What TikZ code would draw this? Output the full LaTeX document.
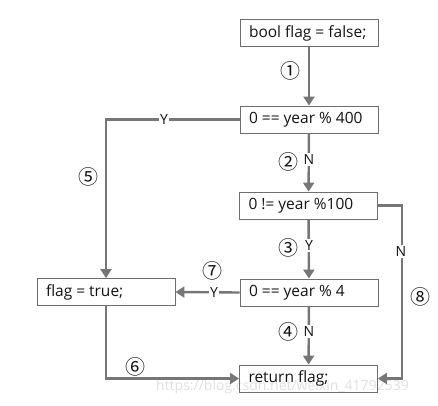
\documentclass[tikz,border=0pt]{standalone}
\usepackage{fontspec}
\setmainfont{Open Sans}
\newfontfamily\circfont{Noto Sans CJK SC}
\usetikzlibrary{arrows.meta}
\definecolor{linegray}{RGB}{118,118,118}
\definecolor{boxgray}{RGB}{110,110,110}
\definecolor{txt}{RGB}{20,20,20}
\newcommand\boxtxt[1]{\makebox[120pt][l]{#1}}
\tikzset{
  box/.style={draw=boxgray, line width=0.9pt, rectangle, minimum height=27pt, minimum width=138pt, inner xsep=9pt, inner ysep=0pt, font=\fontsize{15.5}{17}\selectfont, text=txt},
  conn/.style={draw=linegray, line width=2.4pt, -{Triangle[length=9pt,width=11pt]}},
  yn/.style={fill=white, inner sep=1.5pt, font=\fontsize{14}{16}\selectfont, text=txt},
  num/.style={font=\circfont\fontsize{20}{22}\selectfont, text=txt, inner sep=0pt},
  wm/.style={font=\fontsize{14}{16}\selectfont, text=black!12, inner sep=0pt}
}
\begin{document}
\begin{tikzpicture}[x=1pt,y=-1pt]
\useasboundingbox (0,0) rectangle (438,405);
\node[wm, anchor=west] (w) at (156,387) {https://blog.csdn.net/weixin\_41792539};
\node[box] (b1) at (309,33) {\boxtxt{bool flag = false;}};
\node[box] (b2) at (309,119.5) {\boxtxt{0 == year \% 400}};
\node[box] (b3) at (308.5,205.5) {\boxtxt{0 != year \%100}};
\node[box] (b4) at (309,292.5) {\boxtxt{0 == year \% 4}};
\node[box] (b5) at (308.5,378.5) {\boxtxt{return flag;}};
\node[box] (ft) at (106,292) {\boxtxt{flag = true;}};

\draw[conn] (b1) -- (b2);
\draw[conn] (b2.west) -| (ft.north);
\draw[conn] (b2) -- (b3);
\draw[conn] (b3) -- (b4);
\draw[conn] (b4) -- (b5);
\draw[conn] (b4.west) -- (ft.east);
\draw[conn] (ft.south) |- (b5.west);
\draw[conn] (b3.east) -- ++(24,0) |- (b5.east);

\node[yn] (y1) at (164,119) {Y};
\node[yn] (n1) at (309,159) {N};
\node[yn] (y2) at (309,245) {Y};
\node[yn] (n2) at (309,331) {N};
\node[yn] (y3) at (214,292) {Y};
\node[yn] (n3) at (401,251) {N};

\node[num] (c1) at (290,71) {①};
\node[num] (c2) at (288,162) {②};
\node[num] (c3) at (288,248) {③};
\node[num] (c4) at (288,332) {④};
\node[num] (c5) at (88,177) {⑤};
\node[num] (c6) at (135,367) {⑥};
\node[num] (c7) at (212,271) {⑦};
\node[num] (c8) at (420,297) {⑧};
\end{tikzpicture}
\end{document}
